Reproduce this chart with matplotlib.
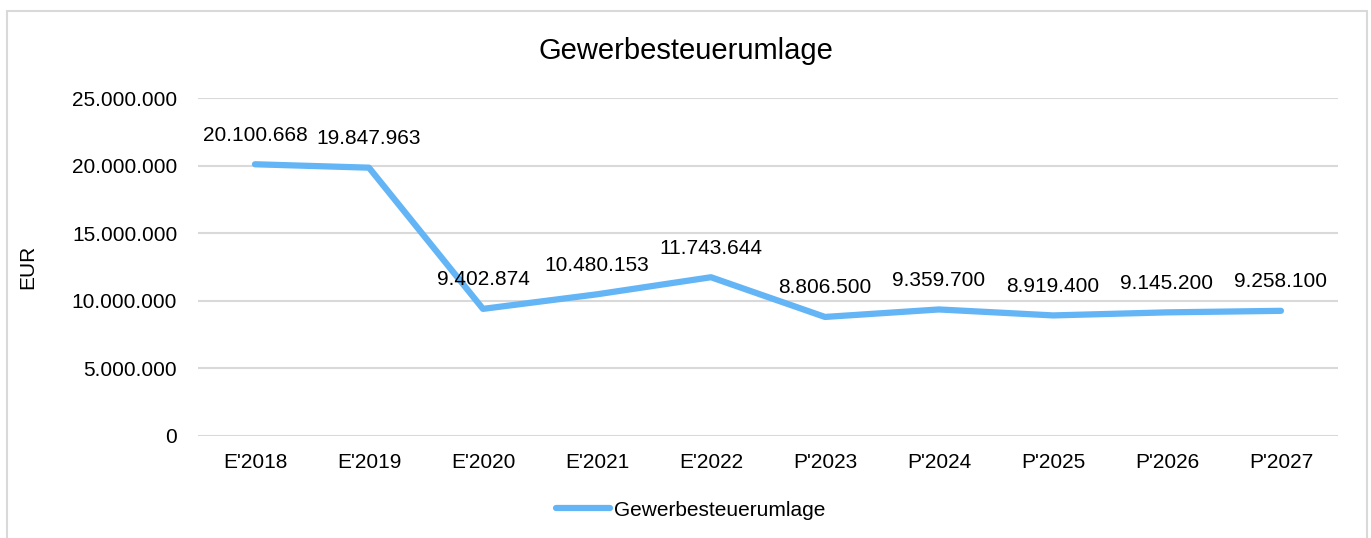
import matplotlib.pyplot as plt
from matplotlib.patches import Rectangle
from matplotlib.ticker import FuncFormatter

# Gewerbesteuerumlage (EUR), Ergebnis / Plan
jahre = ["E'2018", "E'2019", "E'2020", "E'2021", "E'2022",
         "P'2023", "P'2024", "P'2025", "P'2026", "P'2027"]
werte = [20100668, 19847963, 9402874, 10480153, 11743644,
         8806500, 9359700, 8919400, 9145200, 9258100]
y_ticks = [0, 5000000, 10000000, 15000000, 20000000, 25000000]


def de_format(v, pos=None):
    # Tausenderpunkt wie im deutschen Excel
    return f"{int(v):,}".replace(",", ".")


if __name__ == '__main__':
    plt.rcParams['font.family'] = ['Liberation Sans', 'DejaVu Sans']
    fig = plt.figure(figsize=(13.71, 5.38), dpi=100)
    ax = fig.add_axes([0.1444, 0.1896, 0.8315, 0.6282])

    # Rahmen um das Diagramm
    fig.patches.append(Rectangle((7 / 1371, -0.1), 1360 / 1371, 1.1 - 11 / 538,
                                 transform=fig.transFigure, fill=False,
                                 edgecolor='#D9D9D9', linewidth=1.5))

    x = list(range(len(jahre)))
    ax.plot(x, werte, color='#64B5F6', linewidth=4.5,
            solid_capstyle='round', solid_joinstyle='round',
            label='Gewerbesteuerumlage', zorder=3)

    for xi, v in zip(x, werte):
        ax.annotate(de_format(v), (xi, v), xytext=(0, 21),
                    textcoords='offset points', ha='center', va='center',
                    fontsize=15, color='#000000')

    ax.set_xlim(-0.5, len(jahre) - 0.5)
    ax.set_ylim(0, 25000000)
    ax.set_yticks(y_ticks)
    ax.yaxis.set_major_formatter(FuncFormatter(de_format))
    ax.set_xticks(x)
    ax.set_xticklabels(jahre)
    ax.tick_params(axis='both', length=0, labelsize=15, colors='#000000')
    ax.tick_params(axis='y', pad=15)
    ax.tick_params(axis='x', pad=12.5)
    ax.grid(axis='y', color='#D9D9D9', linewidth=1.5)
    ax.set_axisbelow(True)
    for s in ax.spines.values():
        s.set_visible(False)

    ax.set_ylabel('EUR', fontsize=15, labelpad=25)
    fig.text(0.5, 1 - 51 / 538, 'Gewerbesteuerumlage', ha='center',
             va='center', fontsize=21)

    ax.legend(loc='center', bbox_to_anchor=(0.504, (538 - 510) / 538),
              bbox_transform=fig.transFigure, frameon=False, fontsize=15,
              handlelength=2.6, handletextpad=0.2)

    # 顯示圖型
    fig.savefig('out.png', dpi=100)
